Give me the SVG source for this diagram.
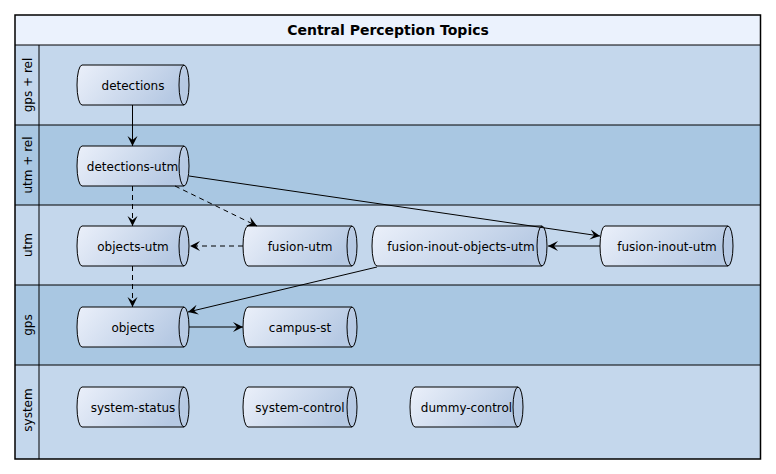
<svg xmlns="http://www.w3.org/2000/svg" width="776" height="474" viewBox="0 0 776 474">
<defs>
<linearGradient id="cyl" x1="0" y1="0" x2="1" y2="0.3">
<stop offset="0" stop-color="#EBF0FA"/>
<stop offset="1" stop-color="#B6C9E3"/>
</linearGradient>
<marker id="ah" viewBox="0 -6 11 12" refX="10" refY="0" markerWidth="11" markerHeight="12" markerUnits="userSpaceOnUse" orient="auto">
<path d="M0,-5 L10,0 L0,5 L4,0 Z" fill="#000"/>
</marker>
<style>
.lbl{font-family:"DejaVu Sans","Liberation Sans",sans-serif;font-size:12px;fill:#000;text-anchor:middle}
.title{font-family:"DejaVu Sans","Liberation Sans",sans-serif;font-size:14px;font-weight:bold;fill:#000;text-anchor:middle}
.body{fill:url(#cyl);stroke:#000;stroke-width:1}
.inner{fill:none;stroke:#000;stroke-width:1}
.c{fill:none;stroke:#000;stroke-width:1;marker-end:url(#ah)}
.d{stroke-dasharray:5,4}
.sep{stroke:#000;stroke-width:1}
</style>
</defs>
<g id="frame">
<rect x="15" y="15" width="745.5" height="30" fill="#EBF2FD"/>
<rect x="15" y="45" width="745.5" height="80" fill="#C4D7EC"/>
<rect x="15" y="125" width="745.5" height="80" fill="#A9C7E2"/>
<rect x="15" y="205" width="745.5" height="80" fill="#C4D7EC"/>
<rect x="15" y="285" width="745.5" height="80" fill="#A9C7E2"/>
<rect x="15" y="365" width="745.5" height="94" fill="#C4D7EC"/>
<line class="sep" x1="15" y1="45" x2="760.5" y2="45"/>
<line class="sep" x1="15" y1="125" x2="760.5" y2="125"/>
<line class="sep" x1="15" y1="205" x2="760.5" y2="205"/>
<line class="sep" x1="15" y1="285" x2="760.5" y2="285"/>
<line class="sep" x1="15" y1="365" x2="760.5" y2="365"/>
<line class="sep" x1="39" y1="45" x2="39" y2="459"/>
<rect x="15" y="15" width="745.5" height="444" fill="none" stroke="#000" stroke-width="1.5"/>
<text class="title" x="388" y="35">Central Perception Topics</text>
<text class="lbl" transform="translate(31.5,85) rotate(-90)">gps + rel</text>
<text class="lbl" transform="translate(31.5,165) rotate(-90)">utm + rel</text>
<text class="lbl" transform="translate(31.5,245) rotate(-90)">utm</text>
<text class="lbl" transform="translate(31.5,325) rotate(-90)">gps</text>
<text class="lbl" transform="translate(31.5,410) rotate(-90)">system</text>
</g>
<g id="n-detections">
<path class="body" d="M82,65 L184,65 A5,20 0 0 1 184,105 L82,105 A5,20 0 0 1 82,65 Z"/>
<path class="inner" d="M184,65 A5,20 0 0 0 184,105"/>
<text class="lbl" x="133" y="89.5">detections</text>
</g>
<g id="n-detections-utm">
<path class="body" d="M82,146 L184,146 A5,20 0 0 1 184,186 L82,186 A5,20 0 0 1 82,146 Z"/>
<path class="inner" d="M184,146 A5,20 0 0 0 184,186"/>
<text class="lbl" x="132.5" y="170.5">detections-utm</text>
</g>
<g id="n-objects-utm">
<path class="body" d="M82,226 L184,226 A5,20 0 0 1 184,266 L82,266 A5,20 0 0 1 82,226 Z"/>
<path class="inner" d="M184,226 A5,20 0 0 0 184,266"/>
<text class="lbl" x="133" y="250.5">objects-utm</text>
</g>
<g id="n-fusion-utm">
<path class="body" d="M248,226 L352,226 A5,20 0 0 1 352,266 L248,266 A5,20 0 0 1 248,226 Z"/>
<path class="inner" d="M352,226 A5,20 0 0 0 352,266"/>
<text class="lbl" x="300" y="250.5">fusion-utm</text>
</g>
<g id="n-fusion-inout-objects-utm">
<path class="body" d="M377,226 L542,226 A5,20 0 0 1 542,266 L377,266 A5,20 0 0 1 377,226 Z"/>
<path class="inner" d="M542,226 A5,20 0 0 0 542,266"/>
<text class="lbl" x="461" y="250.5">fusion-inout-objects-utm</text>
</g>
<g id="n-fusion-inout-utm">
<path class="body" d="M605,226 L728,226 A5,20 0 0 1 728,266 L605,266 A5,20 0 0 1 605,226 Z"/>
<path class="inner" d="M728,226 A5,20 0 0 0 728,266"/>
<text class="lbl" x="667" y="250.5">fusion-inout-utm</text>
</g>
<g id="n-objects">
<path class="body" d="M82,307 L184,307 A5,20 0 0 1 184,347 L82,347 A5,20 0 0 1 82,307 Z"/>
<path class="inner" d="M184,307 A5,20 0 0 0 184,347"/>
<text class="lbl" x="133" y="331.5">objects</text>
</g>
<g id="n-campus-st">
<path class="body" d="M248,307 L352,307 A5,20 0 0 1 352,347 L248,347 A5,20 0 0 1 248,307 Z"/>
<path class="inner" d="M352,307 A5,20 0 0 0 352,347"/>
<text class="lbl" x="300" y="331.5">campus-st</text>
</g>
<g id="n-system-status">
<path class="body" d="M82,387 L184,387 A5,20 0 0 1 184,427 L82,427 A5,20 0 0 1 82,387 Z"/>
<path class="inner" d="M184,387 A5,20 0 0 0 184,427"/>
<text class="lbl" x="133" y="411.5">system-status</text>
</g>
<g id="n-system-control">
<path class="body" d="M248,387 L352,387 A5,20 0 0 1 352,427 L248,427 A5,20 0 0 1 248,387 Z"/>
<path class="inner" d="M352,387 A5,20 0 0 0 352,427"/>
<text class="lbl" x="300" y="411.5">system-control</text>
</g>
<g id="n-dummy-control">
<path class="body" d="M415,387 L518,387 A5,20 0 0 1 518,427 L415,427 A5,20 0 0 1 415,387 Z"/>
<path class="inner" d="M518,387 A5,20 0 0 0 518,427"/>
<text class="lbl" x="466.5" y="411.5">dummy-control</text>
</g>
<g id="connectors">
<path class="c" d="M132.5,105 L132.5,146"/>
<path class="c d" d="M132.5,186 L132.5,226"/>
<path class="c d" d="M175,186 L257,226"/>
<path class="c" d="M189,176 L600,236"/>
<path class="c d" d="M243,246 L190,246"/>
<path class="c" d="M600,246 L548,246"/>
<path class="c d" d="M132.5,266 L132.5,307"/>
<path class="c" d="M377,267 L188,312"/>
<path class="c" d="M189,327 L243,327"/>
</g>
</svg>
